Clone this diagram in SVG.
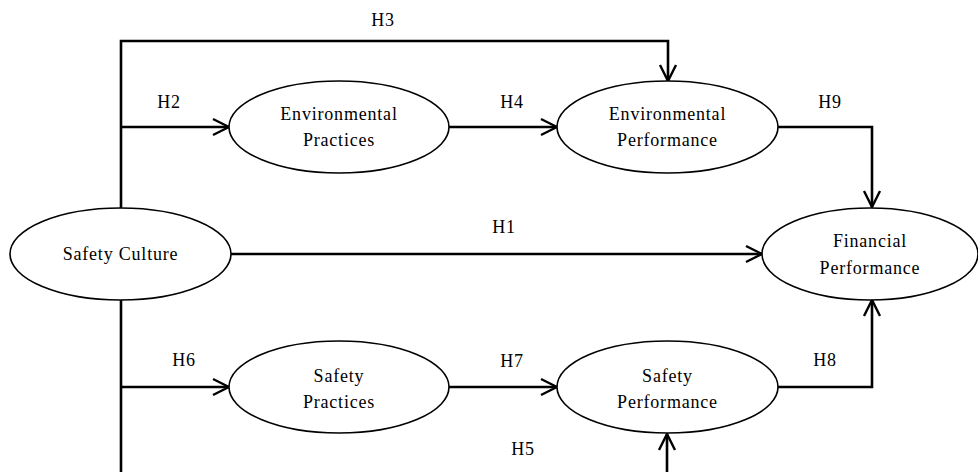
<svg xmlns="http://www.w3.org/2000/svg" width="978" height="472" viewBox="0 0 978 472">
<style>
.node ellipse{fill:#fff;stroke:#000;stroke-width:1.6}
.node text,.lbl{font-family:"Liberation Serif","Times New Roman",serif;font-size:18px;fill:#000;text-anchor:middle;letter-spacing:0.8px}
.conn path{fill:none;stroke:#000;stroke-width:2.6}
</style>
<defs>
<marker id="arr" markerUnits="userSpaceOnUse" viewBox="0 0 20 20" refX="18" refY="10" markerWidth="20" markerHeight="20" orient="auto">
<path d="M2,2 L18,10 L2,18" fill="none" stroke="#000" stroke-width="2.4"/>
</marker>
</defs>
<rect width="978" height="472" fill="#fff"/>
<g class="conn">
<path d="M121,208 V41 H668 V81" marker-end="url(#arr)"/>
<path d="M121,127 H229" marker-end="url(#arr)"/>
<path d="M449,127 H557" marker-end="url(#arr)"/>
<path d="M778,127 H872 V207" marker-end="url(#arr)"/>
<path d="M231,254 H762" marker-end="url(#arr)"/>
<path d="M121,300 V490 H667 V434" marker-end="url(#arr)"/>
<path d="M121,387 H229" marker-end="url(#arr)"/>
<path d="M449,387 H557" marker-end="url(#arr)"/>
<path d="M778,387 H872 V300" marker-end="url(#arr)"/>
</g>
<g class="labels">
<text class="lbl" x="383" y="26">H3</text>
<text class="lbl" x="169" y="108">H2</text>
<text class="lbl" x="512" y="108">H4</text>
<text class="lbl" x="830" y="108">H9</text>
<text class="lbl" x="504" y="233">H1</text>
<text class="lbl" x="184" y="366">H6</text>
<text class="lbl" x="512" y="367">H7</text>
<text class="lbl" x="825" y="366">H8</text>
<text class="lbl" x="523" y="455">H5</text>
</g>
<g id="safety-culture" class="node">
<ellipse cx="120.5" cy="254" rx="110.5" ry="46"/>
<text x="120.5" y="260">Safety Culture</text>
</g>
<g id="env-practices" class="node">
<ellipse cx="339" cy="127" rx="110" ry="46"/>
<text x="339" y="120">Environmental</text>
<text x="339" y="146">Practices</text>
</g>
<g id="env-performance" class="node">
<ellipse cx="667.5" cy="127" rx="110.5" ry="46"/>
<text x="667.5" y="120">Environmental</text>
<text x="667.5" y="146">Performance</text>
</g>
<g id="financial-performance" class="node">
<ellipse cx="870" cy="254" rx="108" ry="46"/>
<text x="870" y="247">Financial</text>
<text x="870" y="274">Performance</text>
</g>
<g id="safety-practices" class="node">
<ellipse cx="339" cy="387" rx="110" ry="46"/>
<text x="339" y="382">Safety</text>
<text x="339" y="408">Practices</text>
</g>
<g id="safety-performance" class="node">
<ellipse cx="667.5" cy="387" rx="110.5" ry="46"/>
<text x="667.5" y="382">Safety</text>
<text x="667.5" y="408">Performance</text>
</g>
</svg>
